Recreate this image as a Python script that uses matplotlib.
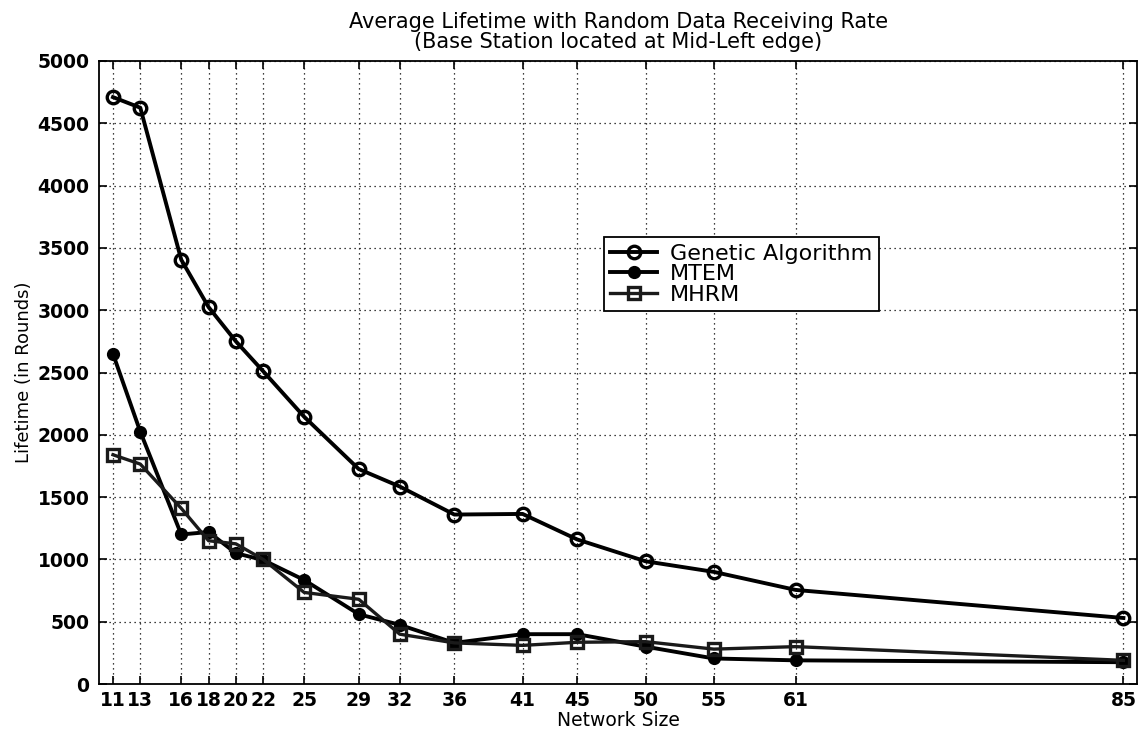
import matplotlib
matplotlib.use("Agg")
import matplotlib.pyplot as plt

# ── data ──────────────────────────────────────────────────────────────────────
network_size = [11, 13, 16, 18, 20, 22, 25, 29, 32, 36, 41, 45, 50, 55, 61, 85]
ga_life   = [4710, 4625, 3405, 3025, 2750, 2510, 2145, 1725, 1585, 1360, 1365, 1160,
             985, 900, 755, 530]
mtem_life = [2650, 2025, 1200, 1220, 1050, 995, 835, 560, 475, 330, 400, 400,
             300, 205, 190, 175]
mhrm_life = [1840, 1765, 1410, 1150, 1125, 1000, 735, 680, 400, 330, 310, 335,
             340, 280, 300, 190]
y_ticks = [0, 500, 1000, 1500, 2000, 2500, 3000, 3500, 4000, 4500, 5000]

plt.rcParams["font.family"] = ["DejaVu Sans"]

fig = plt.figure(figsize=(11.43, 7.34), dpi=100)
ax = fig.add_axes([0.0869, 0.0681, 0.9079, 0.8488])

ax.plot(network_size, ga_life, "-o", color="black", lw=2.8, ms=9, mew=2.4,
        mfc="none", label="Genetic Algorithm")
ax.plot(network_size, mtem_life, "-o", color="black", lw=2.8, ms=8, mew=1.5,
        mfc="black", label="MTEM")
ax.plot(network_size, mhrm_life, "-s", color="#1a1a1a", lw=2.4, ms=8, mew=2.4,
        mfc="none", label="MHRM")

ax.set_xlim(10, 86)
ax.set_ylim(0, 5000)
ax.set_xticks(network_size)
ax.set_xticklabels([str(v) for v in network_size])
ax.set_yticks(y_ticks)

ax.tick_params(direction="in", length=6, width=1.2, top=True, right=True,
               labelsize=13.5, color="black")
ax.tick_params(axis="y", pad=7)
ax.tick_params(axis="x", pad=5)
for lbl in ax.get_xticklabels() + ax.get_yticklabels():
    lbl.set_fontweight("bold")
for sp in ax.spines.values():
    sp.set_linewidth(1.3)

ax.grid(True, color="black", linestyle=(0, (1, 3)), linewidth=0.9)

ax.set_xlabel("Network Size", fontsize=13.5, labelpad=1)
ax.set_ylabel("Lifetime (in Rounds)", fontsize=13, labelpad=3)
ax.set_title("Average Lifetime with Random Data Receiving Rate\n"
             "(Base Station located at Mid-Left edge)", fontsize=15, pad=9,
             linespacing=1.05)

leg = ax.legend(loc="upper left", bbox_to_anchor=(0.486, 0.7175), fontsize=16,
                frameon=True, fancybox=False, edgecolor="black", framealpha=1,
                handlelength=2.1, borderpad=0.3, labelspacing=0.02,
                handletextpad=0.6, borderaxespad=0)
leg.get_frame().set_linewidth(1.3)

fig.savefig("out.png", dpi=100)
